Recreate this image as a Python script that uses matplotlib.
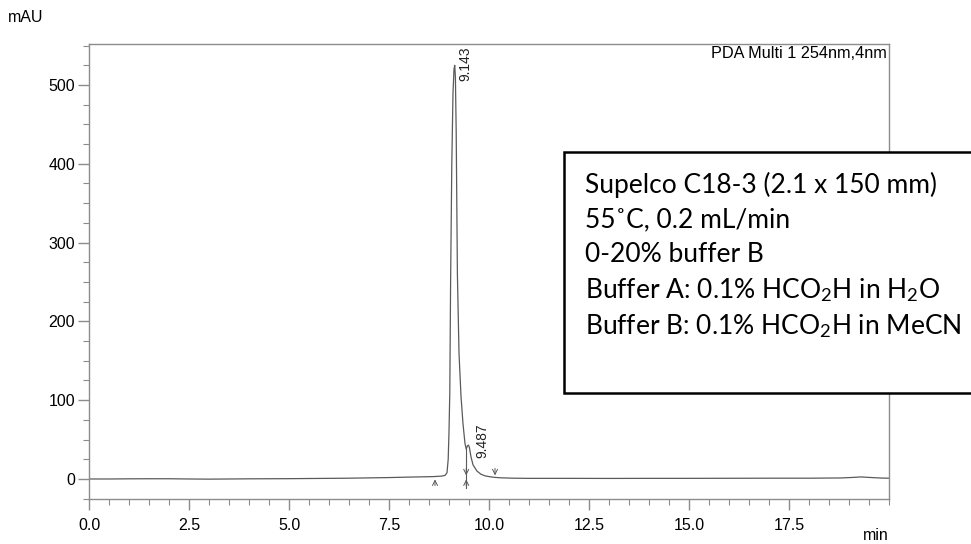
import matplotlib
matplotlib.use("Agg")
import matplotlib.pyplot as plt
from matplotlib.ticker import MultipleLocator, FormatStrFormatter
from matplotlib.patches import Rectangle

# ---- data ----
time_min = [0.0, 0.5, 1.0, 1.5, 2.0, 2.5, 3.0, 3.5, 4.0, 4.5, 5.0, 5.5, 6.0, 6.5, 7.0,
            7.5, 8.0, 8.3, 8.6, 8.8, 8.9, 8.95, 8.98, 9.0, 9.02, 9.04, 9.07, 9.1,
            9.125, 9.143, 9.16, 9.18, 9.21, 9.25, 9.3, 9.35, 9.4, 9.43, 9.46, 9.487,
            9.51, 9.55, 9.6, 9.7, 9.8, 9.9, 10.0, 10.15, 10.3, 10.6, 11.0, 12.0,
            13.0, 14.0, 15.0, 16.0, 17.0, 18.0, 18.8, 19.1, 19.3, 19.5, 19.8, 20.0]
signal_mau = [0.0, 0.0, 0.2, 0.3, 0.3, 0.0, -0.2, 0.0, 0.2, 0.3, 0.4, 0.6, 0.8, 1.0, 1.4,
              1.8, 2.4, 2.7, 3.0, 3.6, 4.5, 8.0, 25.0, 60.0, 110.0, 250.0, 400.0, 490.0,
              520.0, 525.0, 510.0, 440.0, 260.0, 160.0, 105.0, 70.0, 45.0, 38.0, 42.0, 43.0,
              40.0, 28.0, 18.0, 10.0, 6.0, 4.0, 3.0, 2.0, 1.5, 1.0, 0.8, 0.8,
              0.7, 0.8, 0.8, 0.9, 1.0, 1.0, 1.3, 2.0, 2.6, 2.0, 1.2, 1.0]

peak_times = [9.143, 9.487]
peak_labels = ["9.143", "9.487"]
peak_label_pos = [(9.40, 549), (9.83, 71)]   # (time, mAU) of label top

integ_up_marks = [8.65, 9.43]     # peak-start arrows
integ_down_marks = [9.43, 10.15]  # peak-end arrows
drop_line = (9.43, 38.0)

x_ticks = [0.0, 2.5, 5.0, 7.5, 10.0, 12.5, 15.0, 17.5]
y_ticks = [0, 100, 200, 300, 400, 500]

box_lines = ["Supelco C18-3 (2.1 x 150 mm)",
             "55˚C, 0.2 mL/min",
             "0-20% buffer B",
             r"Buffer A: 0.1% HCO$_2$H in H$_2$O",
             r"Buffer B: 0.1% HCO$_2$H in MeCN"]

# ---- style ----
plt.rcParams['font.family'] = ['Liberation Sans', 'DejaVu Sans']
plt.rcParams['mathtext.fontset'] = 'custom'
plt.rcParams['mathtext.rm'] = 'Lato'
plt.rcParams['mathtext.it'] = 'Lato:italic'
plt.rcParams['mathtext.bf'] = 'Lato:bold'

W, H = 971, 544
fig = plt.figure(figsize=(W / 100, H / 100), dpi=100)
ax = fig.add_axes([89 / W, (H - 499) / H, 800 / W, 455 / H])

trace_color = '#5a5a5a'
spine_color = '#8c8c8c'

ax.plot(time_min, signal_mau, color=trace_color, lw=0.9)

ax.set_xlim(0, 20)
ax.set_ylim(-25.4, 552)

for s in ax.spines.values():
    s.set_color(spine_color)
    s.set_linewidth(1.0)

ax.xaxis.set_major_locator(MultipleLocator(2.5))
ax.xaxis.set_minor_locator(MultipleLocator(0.5))
ax.yaxis.set_major_locator(MultipleLocator(100))
ax.yaxis.set_minor_locator(MultipleLocator(25))
ax.set_xticks(x_ticks)
ax.set_yticks(y_ticks)
ax.xaxis.set_major_formatter(FormatStrFormatter('%.1f'))
ax.tick_params(axis='both', which='major', direction='out', length=8, width=1,
               color=spine_color, labelsize=11.5, labelcolor='black', pad=2)
ax.tick_params(axis='both', which='minor', direction='out', length=4, width=0.8,
               color=spine_color)
ax.tick_params(axis='x', pad=6)

# integration markers
arrow_kw = dict(arrowstyle='->', color=trace_color, lw=0.7, mutation_scale=9)
for t in integ_up_marks:
    ax.annotate('', xy=(t, 3), xytext=(t, -12), arrowprops=arrow_kw)
for t in integ_down_marks:
    ax.annotate('', xy=(t, 1), xytext=(t, 17), arrowprops=arrow_kw)
ax.plot([drop_line[0], drop_line[0]], [-12, drop_line[1]], color=trace_color, lw=0.8)

for (tx, ty), lab in zip(peak_label_pos, peak_labels):
    ax.text(tx, ty, lab, rotation=90, ha='center', va='top', fontsize=10,
            color='#222222')

ax.text(0.997, 0.995, "PDA Multi 1 254nm,4nm", transform=ax.transAxes,
        ha='right', va='top', fontsize=11.7)

fig.text(8 / W, 1 - 17 / H, "mAU", ha='left', va='center', fontsize=11.5)
fig.text(889 / W, 1 - 535 / H, "min", ha='right', va='center', fontsize=11.5)

# annotation box
rect = Rectangle((564 / W, 1 - 393 / H), (W + 5 - 564) / W, (393 - 152) / H,
                 transform=fig.transFigure, facecolor='white', edgecolor='black',
                 lw=1.8, zorder=5, clip_on=False)
fig.patches.append(rect)
line_y = [185, 220, 254, 290, 326]
for yy, txt in zip(line_y, box_lines):
    fig.text(585 / W, 1 - yy / H, txt, ha='left', va='center', fontsize=19,
             family=['Lato', 'DejaVu Sans'], zorder=6)

fig.savefig("out.png", dpi=100)
